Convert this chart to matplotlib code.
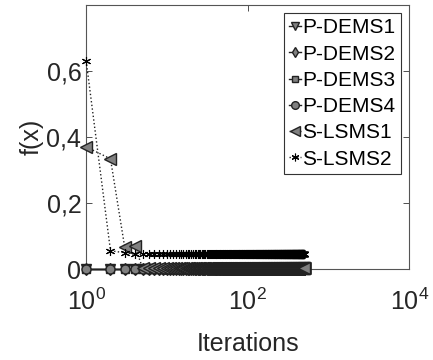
import numpy as np
import matplotlib
matplotlib.use('Agg')
import matplotlib.pyplot as plt

plt.rcParams['font.family'] = ['Liberation Sans', 'DejaVu Sans']
plt.rcParams['mathtext.fontset'] = 'custom'
plt.rcParams['mathtext.rm'] = 'Liberation Sans'
plt.rcParams['mathtext.it'] = 'Liberation Sans'

# number of iterations shown per run
n_iter = 500

pdems1_head = [0.0]
pdems2_head = [0.0]
pdems3_head = [0.0]
pdems4_head = [0.0]
slsms1_head = [0.37, 0.334, 0.067, 0.07, 0.004]
slsms2_head = [0.63, 0.056, 0.05, 0.045]
plateau = {'P-DEMS1': 0.0, 'P-DEMS2': 0.0, 'P-DEMS3': 0.0, 'P-DEMS4': 0.0,
           'S-LSMS1': 0.003, 'S-LSMS2': 0.045}

names = ['P-DEMS1', 'P-DEMS2', 'P-DEMS3', 'P-DEMS4', 'S-LSMS1', 'S-LSMS2']
heads = [pdems1_head, pdems2_head, pdems3_head, pdems4_head, slsms1_head, slsms2_head]
markers = ['v', 'd', 's', 'o', '<', (6, 2, 0)]
msizes = [6.5, 6.5, 5.5, 6.5, 8, 6.5]
styles = ['-', '-', '-', '-', ':', ':']

x_ticks = [1, 100, 10000]
x_labels = ['$10^{0}$', '$10^{2}$', '$10^{4}$']
y_ticks = [0, 0.2, 0.4, 0.6]
y_labels = ['0', '0,2', '0,4', '0,6']

it = np.arange(1, n_iter + 1)

fig = plt.figure(figsize=(4.33, 3.6), dpi=100)
ax = fig.add_axes([0.199, 0.252, 0.746, 0.735])

for name, head, mk, ms, ls in zip(names, heads, markers, msizes, styles):
    y = np.array(head + [plateau[name]] * (n_iter - len(head)))
    star = name == 'S-LSMS2'
    ax.plot(it, y, linestyle=ls, color='#222222', linewidth=1.0,
            marker=mk, markersize=ms, markerfacecolor='#808080',
            markeredgecolor='black' if star else '#222222',
            markeredgewidth=0.8 if star else 1.0, label=name,
            clip_on=False, zorder=3)

ax.set_xscale('log')
ax.set_xlim(1, 10000)
ax.set_ylim(0, 0.8)
ax.set_xticks(x_ticks)
ax.set_xticklabels(x_labels)
ax.set_yticks(y_ticks)
ax.set_yticklabels(y_labels)
ax.minorticks_off()
ax.tick_params(direction='in', top=True, right=True, labelsize=18,
               length=4, width=0.6, colors='#333333', labelcolor='#262626')
ax.tick_params(axis='x', pad=14)
for sp in ax.spines.values():
    sp.set_color('#555555')
    sp.set_linewidth(0.8)

ax.set_xlabel('Iterations', fontsize=18, color='#262626', labelpad=12)
ax.set_ylabel('f(x)', fontsize=18, color='#262626', labelpad=2)

leg = ax.legend(loc='upper right', fontsize=15, handlelength=0.6,
                handletextpad=0.05, borderpad=0.25, labelspacing=0.35,
                borderaxespad=0.4, fancybox=False, framealpha=1,
                edgecolor='#333333', markerscale=0.85)
leg.get_frame().set_linewidth(0.8)

fig.savefig('out.png', dpi=100)
